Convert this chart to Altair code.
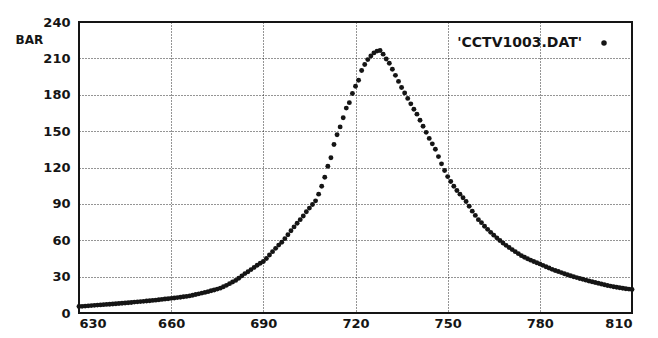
import altair as alt
import pandas as pd

# Pressure trace (x = crank angle, y = BAR)
x_values = list(range(630, 811))
y_values = [
    5.3, 5.5, 5.7, 5.9, 6.1, 6.3, 6.5, 6.7, 6.9, 7.1,            # 630-639
    7.2, 7.4, 7.6, 7.8, 8.0, 8.2, 8.4, 8.7, 9.0, 9.2,            # 640-649
    9.4, 9.6, 9.9, 10.1, 10.4, 10.6, 10.9, 11.2, 11.5, 11.8,     # 650-659
    12.1, 12.4, 12.7, 13.0, 13.4, 13.7, 14.1, 14.6, 15.2, 15.8,  # 660-669
    16.4, 17.0, 17.6, 18.3, 19.0, 19.7, 20.5, 21.6, 22.8, 24.2,  # 670-679
    25.6, 26.9, 28.7, 30.6, 32.5, 34.0, 35.8, 37.6, 39.4, 41.0,  # 680-689
    42.5, 45.0, 47.8, 50.6, 53.3, 56.0, 58.3, 61.3, 64.5, 67.8,  # 690-699
    71.0, 74.0, 77.0, 80.0, 83.5, 86.5, 89.5, 92.5, 98.0, 104.5, # 700-709
    112.0, 121.0, 128.0, 139.0, 147.0, 153.5, 161.0, 169.0, 173.5, 181.0,  # 710-719
    187.0, 192.0, 200.0, 205.0, 209.0, 212.0, 214.5, 216.0, 216.5, 213.5,  # 720-729
    209.5, 206.0, 201.0, 196.0, 191.0, 186.0, 181.5, 177.0, 172.5, 168.0,  # 730-739
    164.0, 159.0, 154.0, 149.0, 144.0, 139.5, 135.0, 129.0, 123.0, 117.5,  # 740-749
    112.5, 108.5, 104.5, 101.0, 98.0, 95.0, 92.0, 88.0, 84.0, 80.5,       # 750-759
    77.0, 74.5, 71.5, 69.0, 66.5, 64.2, 62.0, 59.8, 57.7, 55.8,  # 760-769
    54.0, 52.3, 50.6, 49.0, 47.3, 46.0, 44.8, 43.6, 42.5, 41.5,  # 770-779
    40.5, 39.3, 38.2, 37.1, 36.0, 35.0, 34.2, 33.3, 32.4, 31.5,  # 780-789
    30.7, 29.9, 29.2, 28.5, 27.8, 27.1, 26.4, 25.8, 25.1, 24.5,  # 790-799
    23.9, 23.3, 22.7, 22.2, 21.7, 21.2, 20.8, 20.4, 20.0, 19.7,  # 800-809
    19.4,                                                        # 810
]
series_name = "'CCTV1003.DAT'"
x_ticks = [630, 660, 690, 720, 750, 780, 810]
y_ticks = [0, 30, 60, 90, 120, 150, 180, 210, 240]

df = pd.DataFrame({"x": x_values, "y": y_values, "series": series_name})

FONT = "DejaVu Sans"
INK = "#151515"

chart = alt.Chart(df).mark_circle(size=24, opacity=1).encode(
    x=alt.X("x:Q",
            scale=alt.Scale(domain=[630, 810], nice=False, zero=False),
            axis=alt.Axis(values=x_ticks, title=None, format="d",
                          grid=True, gridColor=INK, gridDash=[1, 2], gridWidth=1,
                          gridOpacity=0.9, domain=False, ticks=False,
                          labelPadding=4, labelFont=FONT, labelFontSize=13,
                          labelFontWeight="bold", labelColor=INK)),
    y=alt.Y("y:Q",
            scale=alt.Scale(domain=[0, 240], nice=False),
            axis=alt.Axis(values=y_ticks, title="BAR", titleAngle=0,
                          titleX=-64, titleY=17, titleAlign="left",
                          titleBaseline="middle", titleFont=FONT,
                          titleFontSize=12, titleFontWeight="bold", titleColor=INK,
                          grid=True, gridColor=INK, gridDash=[1, 2], gridWidth=1,
                          gridOpacity=0.9, domain=False, ticks=False,
                          labelPadding=9, labelFont=FONT, labelFontSize=13,
                          labelFontWeight="bold", labelColor=INK)),
    color=alt.Color("series:N",
                    scale=alt.Scale(range=[INK]),
                    legend=alt.Legend(title=None, orient="none",
                                      legendX=518, legendY=14,
                                      labelAlign="right",
                                      labelOffset={"expr": "-29"},
                                      labelFont=FONT, labelFontSize=14,
                                      labelFontWeight="bold", labelColor=INK,
                                      symbolType="circle", symbolSize=30,
                                      symbolStrokeWidth=0, padding=0,
                                      labelLimit=300)),
).properties(
    width=553, height=291,
    autosize=alt.AutoSizeParams(type="none"),
    padding={"left": 79, "top": 22, "right": 26, "bottom": 25},
    background="white",
).configure_view(
    stroke=INK, strokeWidth=2
)

chart.save("out.html", embed_options={"renderer": "svg", "actions": False})
